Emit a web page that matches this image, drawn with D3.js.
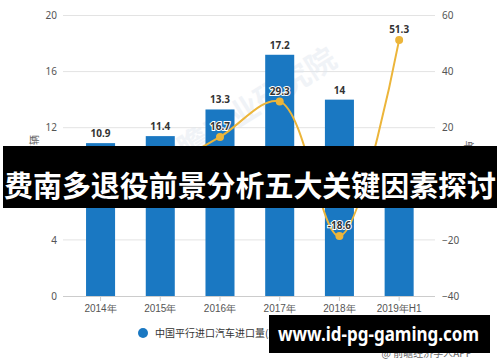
<!DOCTYPE html>
<html><head><meta charset="utf-8">
<script src="https://cdn.jsdelivr.net/npm/d3@7"></script>
<style>
html,body{margin:0;padding:0;background:#fff;}
svg{display:block;font-family:"Noto Sans CJK SC","Noto Sans",sans-serif;}
</style></head>
<body>
<svg id="c" width="500" height="362"></svg>
<script>
const categories = ["2014年","2015年","2016年","2017年","2018年","2019年H1"];
const volumes = [10.9, 11.4, 13.3, 17.2, 14, 9];
const growth = [null, 4.6, 16.7, 29.3, -18.6, 51.3];
const leftTicks = [0, 4, 8, 12, 16, 20];
const rightTicks = [-40, -20, 0, 20, 40, 60];
const seriesNames = ["中国平行进口汽车进口量(万辆)", "增速(%)"];
const leftTitle = "单位：万辆";
const rightTitle = "单位：%";
const bannerTitle = "费南多退役前景分析五大关键因素探讨";
const bannerUrl = "www.id-pg-gaming.com";
const source = "@ 前瞻经济学人APP";

const svg = d3.select("#c");
const blue = "#1a78c2", gold = "#ecb53a";
const plotL = 63, plotR = 435, yTop = 15.5, yBot = 296;

const x = d3.scaleBand().domain(categories).range([70.7, 429]).paddingInner(0.514).paddingOuter(0.257);
const yL = d3.scaleLinear().domain([0, 20]).range([yBot, yTop]);
const yR = d3.scaleLinear().domain([-40, 60]).range([yBot, yTop]);

// gridlines
svg.append("g").selectAll("line").data(leftTicks.slice(1)).join("line")
  .attr("x1", plotL).attr("x2", plotR).attr("y1", d => yL(d)).attr("y2", d => yL(d))
  .attr("stroke", "#e3e3e3").attr("stroke-width", 1);

// watermark
svg.append("text").attr("x", 0).attr("y", 0)
  .attr("transform", "translate(250,120) rotate(-32)")
  .attr("text-anchor", "middle").attr("font-size", 30).attr("font-weight", "bold")
  .attr("fill", "#dfe6ee").attr("opacity", 0.45).text("前瞻产业研究院");

// left axis
const axL = svg.append("g").attr("transform", `translate(${plotL},0)`)
  .call(d3.axisLeft(yL).tickValues(leftTicks).tickSize(0).tickPadding(6));
axL.select(".domain").remove();
axL.selectAll("text").attr("font-size", 10).attr("fill", "#555").attr("font-family", "Noto Sans, sans-serif");

// right axis
const axR = svg.append("g").attr("transform", `translate(${plotR},0)`)
  .call(d3.axisRight(yR).tickValues(rightTicks).tickSize(0).tickPadding(7));
axR.select(".domain").remove();
axR.selectAll("text").attr("font-size", 10).attr("fill", "#555").attr("font-family", "Noto Sans, sans-serif");

// axis titles
svg.append("text").attr("transform", "translate(38,160) rotate(-90)")
  .attr("text-anchor", "middle").attr("font-size", 10).attr("fill", "#666").text(leftTitle);
svg.append("text").attr("transform", "translate(465,160) rotate(90)")
  .attr("text-anchor", "middle").attr("font-size", 10).attr("fill", "#666").text(rightTitle);

// bars
svg.append("g").selectAll("rect").data(volumes).join("rect")
  .attr("x", (d, i) => x(categories[i])).attr("width", x.bandwidth())
  .attr("y", d => yL(d)).attr("height", d => yBot - yL(d)).attr("fill", blue);

// x axis
const axB = svg.append("g").attr("transform", `translate(0,${yBot})`)
  .call(d3.axisBottom(x).tickSize(5).tickPadding(4));
axB.select(".domain").attr("d", `M${plotL},0.5H${plotR}`).attr("stroke", "#ccc");
axB.selectAll(".tick line").attr("stroke", "#ccc");
axB.selectAll("text").attr("font-size", 10).attr("fill", "#555");

// bar labels
svg.append("g").selectAll("text").data(volumes).join("text")
  .attr("x", (d, i) => x(categories[i]) + x.bandwidth() / 2).attr("y", d => yL(d) - 6)
  .attr("text-anchor", "middle").attr("font-size", 10).attr("font-weight", "bold")
  .attr("fill", "#333").attr("font-family", "Noto Sans, sans-serif").text(d => d);

// line
const pts = growth.map((g, i) => g == null ? null : [x(categories[i]) + x.bandwidth() / 2, yR(g)]).filter(p => p);
svg.append("path").attr("d", d3.line().curve(d3.curveCatmullRom.alpha(0.5))(pts))
  .attr("fill", "none").attr("stroke", gold).attr("stroke-width", 2);
svg.append("g").selectAll("circle").data(pts).join("circle")
  .attr("cx", d => d[0]).attr("cy", d => d[1]).attr("r", 4).attr("fill", gold);
const gl = growth.map((g, i) => ({g, i})).filter(d => d.g != null);
svg.append("g").selectAll("text").data(gl).join("text")
  .attr("x", d => x(categories[d.i]) + x.bandwidth() / 2).attr("y", d => yR(d.g) - 7)
  .attr("text-anchor", "middle").attr("font-size", 10).attr("font-weight", "bold")
  .attr("fill", "#333").attr("stroke", "#fff").attr("stroke-width", 2).attr("paint-order", "stroke")
  .attr("font-family", "Noto Sans, sans-serif").text(d => d.g);

// legend
const lg = svg.append("g");
lg.append("circle").attr("cx", 143).attr("cy", 333).attr("r", 5).attr("fill", blue);
lg.append("text").attr("x", 155).attr("y", 337).attr("font-size", 10).attr("fill", "#333").text(seriesNames[0]);
lg.append("circle").attr("cx", 311).attr("cy", 333).attr("r", 5).attr("fill", gold);
lg.append("text").attr("x", 323).attr("y", 337).attr("font-size", 10).attr("fill", "#333").text(seriesNames[1]);

// source
svg.append("text").attr("x", 472).attr("y", 357).attr("text-anchor", "end")
  .attr("font-size", 10).attr("fill", "#666").text(source);

// middle banner
svg.append("rect").attr("x", 3).attr("y", 146).attr("width", 494).attr("height", 62).attr("fill", "#000");
svg.append("rect").attr("x", 21).attr("y", 146).attr("width", 457).attr("height", 62).attr("fill", "rgba(0,0,0,0.6)");
svg.append("text").attr("x", 250).attr("y", 184).attr("text-anchor", "middle")
  .attr("dominant-baseline", "central").attr("font-size", 29).attr("font-weight", "bold")
  .attr("fill", "#fff").attr("textLength", 492).attr("lengthAdjust", "spacingAndGlyphs").text(bannerTitle);

// bottom banner
svg.append("rect").attr("x", 269).attr("y", 315).attr("width", 221).attr("height", 38).attr("fill", "#000");
svg.append("rect").attr("x", 269).attr("y", 315).attr("width", 209).attr("height", 38).attr("fill", "rgba(0,0,0,0.6)");
svg.append("text").attr("x", 378.5).attr("y", 333).attr("text-anchor", "middle")
  .attr("dominant-baseline", "central").attr("font-size", 20).attr("font-weight", "bold")
  .attr("fill", "#fff").attr("font-family", "Noto Sans, DejaVu Sans, sans-serif")
  .attr("textLength", 201).attr("lengthAdjust", "spacingAndGlyphs").text(bannerUrl);
</script>
</body></html>
